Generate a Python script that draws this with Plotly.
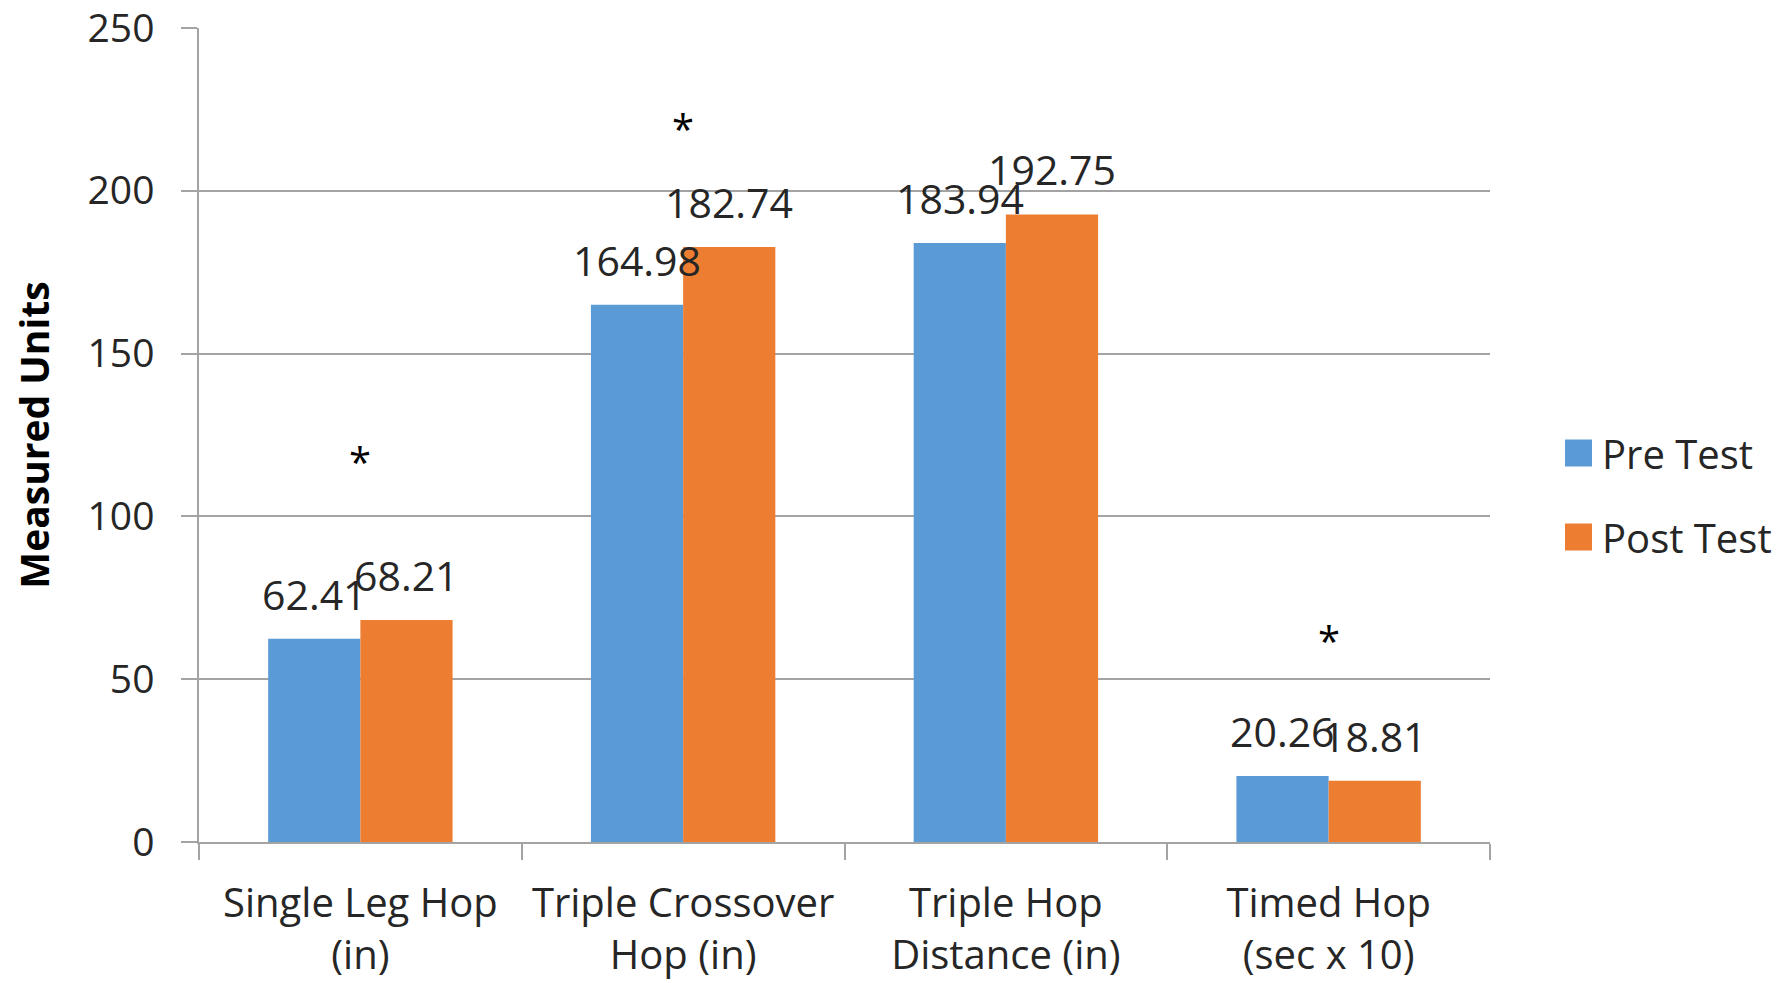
import plotly.graph_objects as go

# Hop test results, pre vs post intervention
categories = [
    "Single Leg Hop<br>(in)",
    "Triple Crossover<br>Hop (in)",
    "Triple Hop<br>Distance (in)",
    "Timed Hop<br>(sec x 10)",
]
pre_test = [62.41, 164.98, 183.94, 20.26]
post_test = [68.21, 182.74, 192.75, 18.81]
series_names = ["Pre Test", "Post Test"]
series_colors = ["#5B9BD5", "#ED7D31"]

# significance markers (category index, height of the asterisk)
significant_idx = [0, 1, 3]
asterisk_y = [117, 219, 62]

y_ticks = [0, 50, 100, 150, 200, 250]

W, H = 1791, 983
L, R, T, B = 199, 301, 28, 141
FONT = "Open Sans"
TXT = "#262626"
GRID = "#A3A3A3"
BARGAP = 0.4286

fig = go.Figure()
for name, vals, col in zip(series_names, [pre_test, post_test], series_colors):
    fig.add_trace(go.Bar(
        name=name, x=categories, y=vals,
        marker=dict(color=col, line=dict(width=0)),
        showlegend=False,
    ))

# data labels above each bar
bar_offset = (1 - BARGAP) / 4
annotations = []
for k, vals in enumerate([pre_test, post_test]):
    sign = -1 if k == 0 else 1
    for i, v in enumerate(vals):
        annotations.append(dict(
            x=i + sign * bar_offset, y=v, xref="x", yref="y",
            text=f"{v:.2f}", showarrow=False,
            yanchor="middle", yshift=45,
            font=dict(family=FONT, size=41, color=TXT),
        ))

for i, ay in zip(significant_idx, asterisk_y):
    annotations.append(dict(
        x=i, y=ay, xref="x", yref="y", text="*", showarrow=False,
        yanchor="middle", font=dict(family=FONT, size=40, color="#000000"),
    ))

# legend: colour swatches with series names
plot_w = W - L - R
plot_h = H - T - B
def px_x(p):
    return (p - L) / plot_w
def px_y(p):
    return (H - B - p) / plot_h

shapes = []
legend_rows = [453, 537]
for name, col, cy in zip(series_names, series_colors, legend_rows):
    shapes.append(dict(
        type="rect", xref="paper", yref="paper",
        x0=px_x(1565), x1=px_x(1592), y0=px_y(cy + 13.5), y1=px_y(cy - 13.5),
        fillcolor=col, line=dict(width=0),
    ))
    annotations.append(dict(
        x=px_x(1600), y=px_y(cy), xref="paper", yref="paper",
        text=name, showarrow=False, xanchor="left", yanchor="middle",
        font=dict(family=FONT, size=40, color=TXT),
    ))

fig.update_layout(
    width=W, height=H,
    margin=dict(l=L, r=R, t=T, b=B),
    paper_bgcolor="white", plot_bgcolor="white",
    barmode="group", bargap=BARGAP, bargroupgap=0,
    font=dict(family=FONT, size=40, color=TXT),
    annotations=annotations, shapes=shapes,
    xaxis=dict(
        type="category", showgrid=False, automargin=False,
        showline=True, linecolor=GRID, linewidth=1.5,
        ticks="outside", tickson="boundaries", ticklen=16,
        tickcolor=GRID, tickwidth=1.5,
        ticklabelstandoff=25,
        tickfont=dict(family=FONT, size=40, color=TXT),
    ),
    yaxis=dict(
        range=[0, 250], tickvals=y_ticks, automargin=False,
        ticklabeloverflow="allow",
        showgrid=True, gridcolor=GRID, gridwidth=1.5,
        showline=True, linecolor=GRID, linewidth=1.5,
        ticks="outside", ticklen=16, tickcolor=GRID, tickwidth=1.5,
        ticklabelstandoff=19, zeroline=False,
        tickfont=dict(family=FONT, size=39, color=TXT),
        title=dict(text="<b>Measured Units</b>", standoff=26,
                   font=dict(family=FONT, size=39, color="#000000")),
    ),
)

fig.write_html("out.html")
